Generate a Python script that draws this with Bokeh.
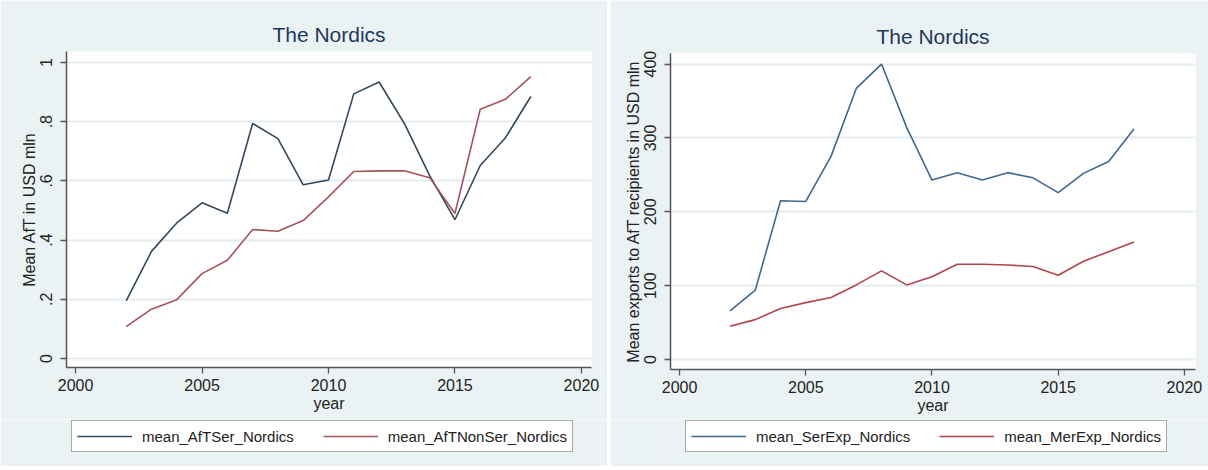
from bokeh.plotting import figure
from bokeh.layouts import row, column
from bokeh.models import Legend, LegendItem, FixedTicker, Range1d
from bokeh.embed import file_html
from bokeh.resources import INLINE

# ---------------- data ----------------
years = [2002, 2003, 2004, 2005, 2006, 2007, 2008, 2009, 2010,
         2011, 2012, 2013, 2014, 2015, 2016, 2017, 2018]

aft_ser = [0.195, 0.362, 0.458, 0.526, 0.491, 0.794, 0.743, 0.587, 0.603,
           0.894, 0.934, 0.794, 0.618, 0.469, 0.652, 0.746, 0.885]
aft_nonser = [0.108, 0.167, 0.199, 0.287, 0.332, 0.436, 0.430, 0.466, 0.546,
              0.632, 0.634, 0.634, 0.611, 0.490, 0.842, 0.876, 0.952]

ser_exp = [66, 94, 215, 214, 275, 367, 400, 314, 243,
           253, 243, 253, 246, 226, 252, 268, 312]
mer_exp = [45, 54, 69, 77, 84, 101, 120, 101, 112,
           129, 129, 128, 126, 114, 133, 146, 159]

x_ticks = [2000, 2005, 2010, 2015, 2020]
left_y_ticks = [0, 0.2, 0.4, 0.6, 0.8, 1]
left_y_labels = ["0", ".2", ".4", ".6", ".8", "1"]
right_y_ticks = [0, 100, 200, 300, 400]

label_left_series = ["mean_AfTSer_Nordics", "mean_AfTNonSer_Nordics"]
label_right_series = ["mean_SerExp_Nordics", "mean_MerExp_Nordics"]

FONT = "Liberation Sans"
BG = "#eaf2f3"
MAIN_BOTTOM = 52
LEG_H = 466 - (51 + 316 + MAIN_BOTTOM)


def make_fig(ys, colors, x_rng, y_rng, yticks, ylabel_overrides,
             ylabel, mb_left, mb_right, mb_top):
    p = figure(frame_width=525, frame_height=316,
               x_range=Range1d(*x_rng), y_range=Range1d(*y_rng),
               min_border_left=mb_left, min_border_right=mb_right,
               min_border_top=mb_top, min_border_bottom=MAIN_BOTTOM + 51 - mb_top,
               output_backend="svg", toolbar_location=None)
    p.background_fill_color = "white"
    p.border_fill_color = BG
    p.outline_line_color = None

    p.title.text = "The Nordics"
    p.title.align = "center"
    p.title.text_font = FONT
    p.title.text_font_size = "21px"
    p.title.text_font_style = "normal"
    p.title.text_color = "#1e3859"
    p.title.standoff = 11

    p.xaxis.ticker = FixedTicker(ticks=x_ticks)
    p.yaxis.ticker = FixedTicker(ticks=yticks)
    if ylabel_overrides:
        p.yaxis.major_label_overrides = ylabel_overrides
    p.yaxis.major_label_orientation = "vertical"
    p.xaxis.axis_label = "year"
    p.yaxis.axis_label = ylabel
    for ax in (p.xaxis, p.yaxis):
        ax.axis_label_text_font = FONT
        ax.axis_label_text_font_size = "16px"
        ax.axis_label_text_font_style = "normal"
        ax.axis_label_text_color = "#222222"
        ax.major_label_text_font = FONT
        ax.major_label_text_font_size = "16px"
        ax.major_label_text_color = "#222222"
        ax.minor_tick_line_color = None
        ax.major_tick_in = 0
        ax.major_tick_out = 6
        ax.major_tick_line_color = "#555555"
        ax.major_tick_line_width = 1.3
        ax.axis_line_color = "#555555"
        ax.axis_line_width = 1.5
    p.xaxis.major_label_standoff = 5
    p.xaxis.axis_label_standoff = 1
    p.yaxis.major_label_standoff = 8
    p.yaxis.axis_label_standoff = 0

    p.xgrid.grid_line_color = None
    p.ygrid.grid_line_color = "#e4ecef"
    p.ygrid.grid_line_width = 2

    for y, col in zip(ys, colors):
        p.line(years, y, line_color=col, line_width=1.6)
    return p


def make_legend_fig(width, ys, labels, colors, loc):
    # a strip below the chart that only holds the legend; its series lie
    # outside the strip's range, so only the legend itself is visible
    lf = figure(width=width, height=LEG_H, min_border=0,
                x_range=Range1d(0, 1), y_range=Range1d(0, 1),
                x_axis_type=None, y_axis_type=None,
                output_backend="svg", toolbar_location=None)
    lf.background_fill_color = BG
    lf.border_fill_color = BG
    lf.outline_line_color = None
    lf.xgrid.visible = False
    lf.ygrid.visible = False
    items = []
    for y, lab, col in zip(ys, labels, colors):
        r = lf.line(years, y, line_color=col, line_width=1.6)
        items.append(LegendItem(label=lab, renderers=[r]))
    leg = Legend(items=items, orientation="horizontal", location=loc)
    leg.label_text_font = FONT
    leg.label_text_font_size = "15px"
    leg.label_text_color = "#222222"
    leg.glyph_width = 55
    leg.glyph_height = 20
    leg.label_standoff = 10
    leg.spacing = 29
    leg.padding = 5
    leg.margin = 0
    leg.border_line_color = "#555555"
    leg.border_line_width = 1.5
    leg.background_fill_color = "white"
    leg.background_fill_alpha = 1.0
    lf.add_layout(leg, "center")
    return lf


left_colors = ["#34495c", "#a4545b"]
right_colors = ["#3f6790", "#b0454d"]

p1 = make_fig([aft_ser, aft_nonser], left_colors,
              (1999.64, 2020.4), (-0.030, 1.037),
              left_y_ticks, dict(zip(left_y_ticks, left_y_labels)),
              "Mean AfT in USD mln", 66, 16, 51)

p2 = make_fig([ser_exp, mer_exp], right_colors,
              (1999.64, 2020.44), (-13.5, 414.3),
              right_y_ticks, None,
              "Mean exports to AfT recipients in USD mln", 60, 13, 53)

l1 = make_legend_fig(607, [aft_ser, aft_nonser], label_left_series,
                     left_colors, (5, LEG_H - 33))
l2 = make_legend_fig(598, [ser_exp, mer_exp], label_right_series,
                     right_colors, (15, LEG_H - 33))

layout = row(column(p1, l1, spacing=0), column(p2, l2, spacing=0), spacing=3)

open("out.html", "w").write(file_html(layout, INLINE))
